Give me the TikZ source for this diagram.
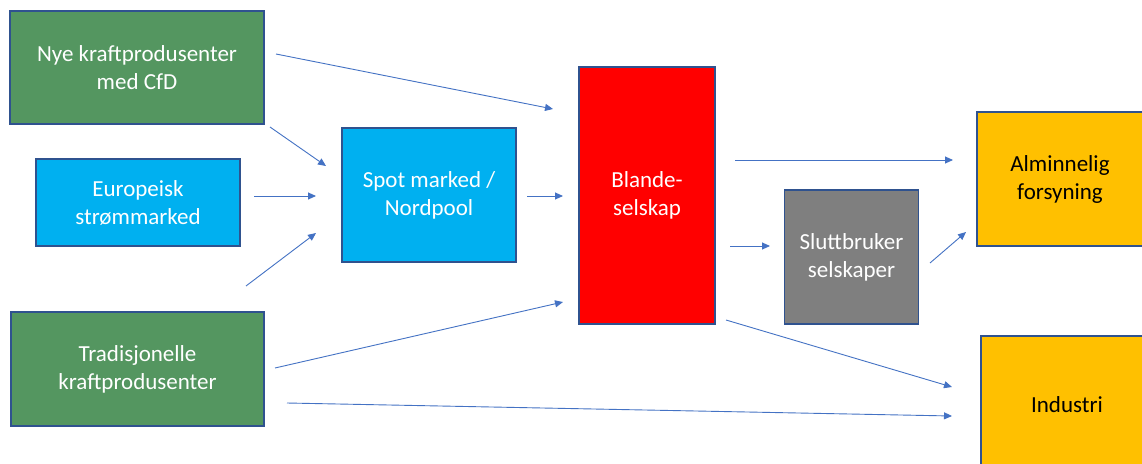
\documentclass[tikz,border=0pt]{standalone}
\usepackage{fontspec}
\setmainfont{Carlito}
\usetikzlibrary{arrows.meta}
\definecolor{boxline}{RGB}{47,82,143}
\definecolor{arrowblue}{RGB}{68,114,196}
\definecolor{prodgreen}{RGB}{84,150,96}
\definecolor{marketblue}{RGB}{0,176,240}
\definecolor{mixred}{RGB}{255,0,0}
\definecolor{usergray}{RGB}{127,127,127}
\definecolor{custyellow}{RGB}{255,192,0}
\begin{document}
\begin{tikzpicture}[x=1pt,y=-1pt,
  box/.style={draw=boxline, line width=1.1pt, inner sep=0pt, align=center, text=white,
    font=\fontsize{23}{28}\selectfont},
  conn/.style={draw=arrowblue, line width=0.9pt, -{Triangle[length=8pt,width=7pt]}}]
\useasboundingbox (0,0) rectangle (1142,463);
\clip (0,0) rectangle (1142,463);
\fill[white] (0,0) rectangle (1142,463);

\node[box, fill=prodgreen, minimum width=254pt, minimum height=113pt] (nye) at (137,67.5) {Nye kraftprodusenter\\med CfD};
\node[box, fill=marketblue, minimum width=204pt, minimum height=87pt] (euro) at (138,202.5) {Europeisk\\strømmarked};
\node[box, fill=prodgreen, minimum width=253pt, minimum height=114pt] (trad) at (137.5,369) {Tradisjonelle\\kraftprodusenter};
\node[box, fill=marketblue, minimum width=174pt, minimum height=134pt] (spot) at (429,195) {Spot marked /\\Nordpool};
\node[box, fill=mixred, minimum width=136pt, minimum height=257pt] (blande) at (647,195.5) {Blande-\\selskap};
\node[box, fill=usergray, minimum width=134pt, minimum height=134pt] (slutt) at (851.5,257) {Sluttbruker\\selskaper};
\node[box, fill=custyellow, text=black, minimum width=166pt, minimum height=134pt] (alm) at (1060,179) {Alminnelig\\forsyning};
\node[box, fill=custyellow, text=black, minimum width=172pt, minimum height=138pt] (ind) at (1067,405) {Industri};

\coordinate (a1s) at (276,54);   \coordinate (a1e) at (553,109);
\coordinate (a2s) at (270,127);  \coordinate (a2e) at (326,166);
\coordinate (a3s) at (254,196);  \coordinate (a3e) at (316,196);
\coordinate (a4s) at (246,286);  \coordinate (a4e) at (316,233);
\coordinate (a5s) at (527,196);  \coordinate (a5e) at (563,196);
\coordinate (a6s) at (275,368);  \coordinate (a6e) at (563,302);
\coordinate (a7s) at (287,403);  \coordinate (a7e) at (952,416);
\coordinate (a8s) at (735,160);  \coordinate (a8e) at (953,160);
\coordinate (a9s) at (730,246);  \coordinate (a9e) at (770,246);
\coordinate (a10s) at (930,263); \coordinate (a10e) at (966,232);
\coordinate (a11s) at (726,320); \coordinate (a11e) at (952,387);

\draw[conn] (a1s) -- (a1e);
\draw[conn] (a2s) -- (a2e);
\draw[conn] (a3s) -- (a3e);
\draw[conn] (a4s) -- (a4e);
\draw[conn] (a5s) -- (a5e);
\draw[conn] (a6s) -- (a6e);
\draw[conn] (a7s) -- (a7e);
\draw[conn] (a8s) -- (a8e);
\draw[conn] (a9s) -- (a9e);
\draw[conn] (a10s) -- (a10e);
\draw[conn] (a11s) -- (a11e);
\end{tikzpicture}
\end{document}
